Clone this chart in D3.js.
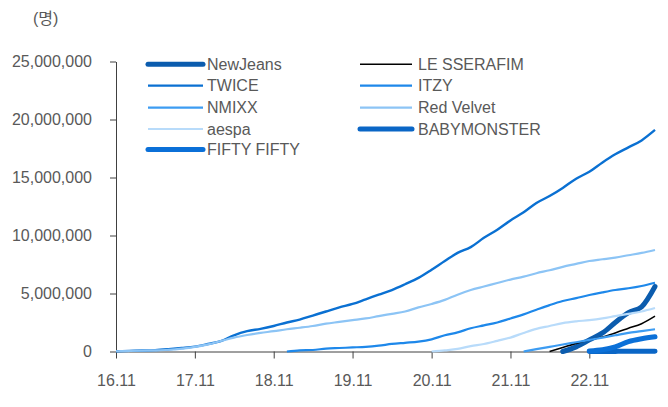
<!DOCTYPE html>
<html>
<head>
<meta charset="utf-8">
<script src="https://cdn.jsdelivr.net/npm/d3@7"></script>
<style>
  html, body { margin: 0; padding: 0; background: #fff; }
  svg { display: block; }
  text { font-family: Arial, "Liberation Sans", "Noto Sans CJK KR", sans-serif; font-size: 16px; fill: #595959; }
  .axis path, .axis line { stroke: #404040; }
</style>
</head>
<body>
<svg id="chart" width="668" height="407"></svg>
<script>
// Cumulative subscribers (명), values in millions, sampled every two months.
const months = [
  '16.11', '17.01', '17.03', '17.05', '17.07', '17.09', '17.11', '18.01', '18.03', '18.05', '18.07', '18.09',
  '18.11', '19.01', '19.03', '19.05', '19.07', '19.09', '19.11', '20.01', '20.03', '20.05', '20.07', '20.09',
  '20.11', '21.01', '21.03', '21.05', '21.07', '21.09', '21.11', '22.01', '22.03', '22.05', '22.07', '22.09',
  '22.11', '23.01', '23.03', '23.05', '23.07', '23.09'
];
const xTickLabels = ['16.11', '17.11', '18.11', '19.11', '20.11', '21.11', '22.11'];
const yTicks = [0, 5e6, 10e6, 15e6, 20e6, 25e6];

// each series starts at its own month
const twice = [0.02, 0.05, 0.08, 0.12, 0.2, 0.3, 0.42, 0.65, 0.9, 1.4, 1.75, 1.95, 2.2, 2.5, 2.75, 3.1, 3.45, 3.8, 4.1, 4.5, 4.9,
  5.3, 5.8, 6.35, 7.05, 7.8, 8.5, 9.0, 9.8, 10.5, 11.3, 12.0, 12.8, 13.4, 14.1, 14.9, 15.5, 16.3, 17.0, 17.6, 18.2, 19.1];
const redVelvet = [0.02, 0.04, 0.07, 0.1, 0.15, 0.25, 0.4, 0.62, 0.9, 1.2, 1.42, 1.6, 1.75, 1.92, 2.05, 2.2, 2.4, 2.55, 2.7, 2.85, 3.05,
  3.25, 3.45, 3.8, 4.1, 4.45, 4.9, 5.3, 5.6, 5.9, 6.2, 6.45, 6.75, 7.0, 7.3, 7.55, 7.8, 7.95, 8.1, 8.3, 8.5, 8.75];
const itzy = [0, 0.1, 0.13, 0.25, 0.3, 0.35, 0.4, 0.5, 0.65, 0.75, 0.85, 1.05, 1.4, 1.65, 2.0, 2.25, 2.5, 2.85, 3.2, 3.6,
  4.0, 4.35, 4.6, 4.87, 5.1, 5.3, 5.45, 5.65, 5.93];
const aespa = [0, 0.1, 0.22, 0.47, 0.65, 0.92, 1.2, 1.6, 1.95, 2.2, 2.45, 2.6, 2.7, 2.85, 3.05, 3.25, 3.45, 3.75];
const nmixx = [0, 0.2, 0.4, 0.6, 0.8, 1.0, 1.2, 1.4, 1.6, 1.75, 1.92];
const leSserafim = [0, 0.35, 0.7, 1.0, 1.25, 1.6, 2.0, 2.4, 3.05];
const newJeans = [0, 0.4, 1.0, 1.6, 2.5, 3.35, 3.85, 5.6];
const babymonster = [0, 0.01, 0.01, 0.02, 0.02, 0.03];
const fiftyFifty = [0.05, 0.15, 0.4, 0.85, 1.1, 1.27];

const series = [
  { name: 'NewJeans',    start: '22.07', values: newJeans,    color: '#0b5cae', width: 5 },
  { name: 'LE SSERAFIM', start: '22.05', values: leSserafim,  color: '#000000', width: 1.6 },
  { name: 'TWICE',       start: '16.11', values: twice,       color: '#0a70d2', width: 2.4 },
  { name: 'ITZY',        start: '19.01', values: itzy,        color: '#1e88ea', width: 2.2 },
  { name: 'NMIXX',       start: '22.01', values: nmixx,       color: '#3d9cf2', width: 2.2 },
  { name: 'Red Velvet',  start: '16.11', values: redVelvet,   color: '#8cc4f5', width: 2.2 },
  { name: 'aespa',       start: '20.11', values: aespa,       color: '#b8dbfa', width: 2.2 },
  { name: 'BABYMONSTER', start: '22.11', values: babymonster, color: '#0a66c6', width: 5 },
  { name: 'FIFTY FIFTY', start: '22.11', values: fiftyFifty,  color: '#0b70d8', width: 5 }
];

const parse = d3.timeParse('%y.%m');
const svg = d3.select('#chart');

const x = d3.scaleTime()
  .domain([parse(months[0]), parse(months[months.length - 1])])
  .range([116, 655]);
const y = d3.scaleLinear().domain([0, 25e6]).range([351.5, 61.5]);

// axes
svg.append('g')
  .attr('class', 'axis')
  .attr('transform', 'translate(116,0)')
  .call(d3.axisLeft(y).tickValues(yTicks).tickFormat(d3.format(',')).tickSize(6).tickSizeOuter(0).tickPadding(18))
  .call(g => g.selectAll('text').attr('font-size', null).attr('font-family', null));

svg.append('g')
  .attr('class', 'axis')
  .attr('transform', 'translate(0,351.5)')
  .call(d3.axisBottom(x).tickValues(xTickLabels.map(parse)).tickFormat(d3.timeFormat('%y.%m')).tickSize(7).tickSizeOuter(0).tickPadding(16))
  .call(g => g.selectAll('text').attr('font-size', null).attr('font-family', null));

svg.selectAll('.axis').attr('font-size', null).attr('font-family', null);

// unit label
svg.append('text').attr('x', 33).attr('y', 24).text('(명)');

// lines
const line = d3.line()
  .x(d => x(d.date))
  .y(d => y(d.value * 1e6))
  .curve(d3.curveMonotoneX);

const lineGroup = svg.append('g');
series.forEach(s => {
  const i0 = months.indexOf(s.start);
  const pts = s.values.map((v, i) => ({ date: parse(months[i0 + i]), value: v }));
  lineGroup.append('path')
    .datum(pts)
    .attr('fill', 'none')
    .attr('stroke', s.color)
    .attr('stroke-width', s.width)
    .attr('stroke-linejoin', 'round')
    .attr('stroke-linecap', s.width > 3 ? 'round' : 'butt')
    .attr('d', line);
});

// legend, filled row by row in two columns
const legendCols = [{ x1: 148, x2: 203, tx: 207 }, { x1: 360, x2: 412, tx: 418 }];
const legendRows = [64.3, 85.6, 107.6, 129, 149.5];

series.forEach((s, i) => {
  const col = legendCols[i % 2];
  const ry = legendRows[Math.floor(i / 2)];
  const g = svg.append('g');
  g.append('line')
    .attr('x1', col.x1).attr('x2', col.x2)
    .attr('y1', ry).attr('y2', ry)
    .attr('stroke', s.color)
    .attr('stroke-width', s.width)
    .attr('stroke-linecap', s.width > 3 ? 'round' : 'butt');
  g.append('text')
    .attr('x', col.tx).attr('y', ry).attr('dy', '0.35em')
    .text(s.name);
});
</script>
</body>
</html>
